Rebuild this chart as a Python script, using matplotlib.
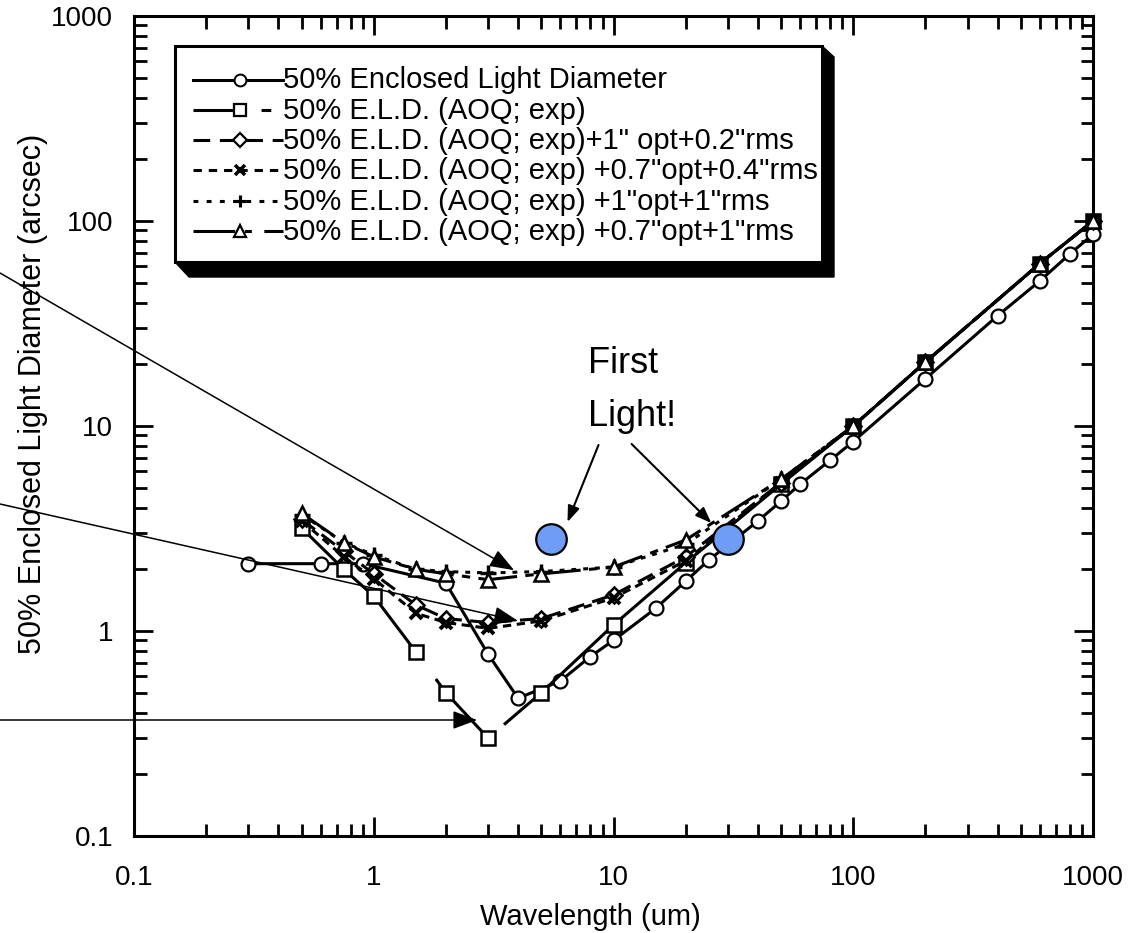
import matplotlib
matplotlib.use('Agg')
import matplotlib.pyplot as plt
from matplotlib.lines import Line2D
from matplotlib.patches import Rectangle, Polygon
from matplotlib.ticker import FuncFormatter

plt.rcParams['font.family'] = ['Liberation Sans', 'DejaVu Sans']
plt.rcParams['lines.scale_dashes'] = False

W, H = 1139, 933
DPI = 100

# ------------------------------------------------------------------
# data
# ------------------------------------------------------------------
wl_eld = [0.3, 0.6, 0.9, 2, 3, 4, 6, 8, 10, 15, 20, 25, 40, 50, 60, 80,
          100, 200, 400, 600, 800, 1000]
eld = [2.13, 2.13, 2.13, 1.71, 0.77, 0.47, 0.57, 0.75, 0.9, 1.29, 1.75,
       2.22, 3.44, 4.3, 5.2, 6.8, 8.4, 17, 34.5, 51, 69, 86]

wl_aoq = [0.5, 0.75, 1, 1.5, 2, 3, 5, 10, 20, 50, 100, 200, 600, 1000]
aoq = [3.18, 2.0, 1.48, 0.79, 0.5, 0.3, 0.5, 1.07, 2.15, 5.2, 10, 20.5, 62, 100]
aoq_1opt_02rms = [3.5, 2.45, 1.9, 1.34, 1.15, 1.1, 1.15, 1.5, 2.3, 5.3, 10, 20.5, 62, 100]
aoq_07opt_04rms = [3.45, 2.3, 1.8, 1.22, 1.1, 1.03, 1.12, 1.45, 2.2, 5.3, 10, 20.5, 62, 100]
aoq_1opt_1rms = [3.7, 2.7, 2.35, 2.0, 1.95, 1.92, 1.95, 2.05, 2.65, 5.5, 10, 20.5, 62, 100]
aoq_07opt_1rms = [3.75, 2.7, 2.3, 2.0, 1.9, 1.78, 1.9, 2.05, 2.78, 5.5, 10, 20.5, 62, 100]

first_light_wl = [5.5, 30]
first_light_eld = [2.8, 2.8]

labels = [
    '50% Enclosed Light Diameter',
    '50% E.L.D. (AOQ; exp)',
    '50% E.L.D. (AOQ; exp)+1" opt+0.2"rms',
    '50% E.L.D. (AOQ; exp) +0.7"opt+0.4"rms',
    '50% E.L.D. (AOQ; exp) +1"opt+1"rms',
    '50% E.L.D. (AOQ; exp) +0.7"opt+1"rms',
]
xs = [wl_eld, wl_aoq, wl_aoq, wl_aoq, wl_aoq, wl_aoq]
ys = [eld, aoq, aoq_1opt_02rms, aoq_07opt_04rms, aoq_1opt_1rms, aoq_07opt_1rms]

# style per series: marker, size, edge width, dash pattern in plot, dash in legend
markers = ['o', 's', 'D', 'x', '+', '^']
msizes = [10, 10, 8, 9, 11, 10]
mews = [1.6, 1.8, 1.8, 2.8, 2.5, 1.8]
plot_dashes = [None, (122, 24, 58, 14, 2000, 1), (12, 6), (6, 4), (3.5, 5), (28, 6, 6, 6)]
leg_dashes = [None, (30, 19, 7, 10), (12, 7), (6, 5), (3.5, 6), (30, 7, 5, 9)]


def fx(px):
    return px / W


def fy(py):
    return 1 - py / H


fig = plt.figure(figsize=(W / DPI, H / DPI), dpi=DPI)
ax = fig.add_axes([fx(134), fy(836), fx(1093) - fx(134), fy(16) - fy(836)])
ax.set_xscale('log')
ax.set_yscale('log')
ax.set_xlim(0.1, 1000)
ax.set_ylim(0.1, 1000)

for x, y, m, ms, mew, d in zip(xs, ys, markers, msizes, mews, plot_dashes):
    ln, = ax.plot(x, y, color='black', lw=2.2, marker=m, ms=ms, mew=mew,
                  mfc='white', mec='black', zorder=3, clip_on=False)
    if d is not None:
        ln.set_dashes(d)

ax.plot(first_light_wl, first_light_eld, ls='none', marker='o', ms=22,
        mfc='#6f9df5', mec='black', mew=1.6, zorder=5)

# axes styling
for s in ax.spines.values():
    s.set_linewidth(2.2)
fmt = FuncFormatter(lambda v, p: f'{v:g}')
ax.xaxis.set_major_formatter(fmt)
ax.yaxis.set_major_formatter(fmt)
ax.tick_params(which='both', direction='in', top=True, right=True, width=2)
ax.tick_params(which='major', length=13.5, labelsize=20)
ax.tick_params(which='minor', length=9)
ax.tick_params(axis='x', which='major', pad=21)
ax.tick_params(axis='y', which='major', pad=15)

fig.text(fx(33), fy(394), '50% Enclosed Light Diameter (arcsec)', rotation=90,
         ha='center', va='center', fontsize=22)
fig.text(fx(590), fy(925), 'Wavelength (um)', ha='center', va='baseline', fontsize=21)

# thin arrows coming in from the left edge
arrow_tips = [(3.85, 1.98), (4.0, 1.12), (2.7, 0.368)]
arrow_starts = [fy(273), fy(504), fy(720)]
for (tx, ty), sy in zip(arrow_tips, arrow_starts):
    ax.annotate('', xy=(tx, ty), xycoords='data', xytext=(0, sy),
                textcoords='figure fraction', annotation_clip=False,
                arrowprops=dict(arrowstyle='-|>,head_length=0.75,head_width=0.28',
                                mutation_scale=20, lw=1.1, color='black',
                                shrinkA=0, shrinkB=0, clip_on=False))

# "First Light!" callout
ax.text(7.8, 24.5, 'First\nLight!', ha='left', va='top', fontsize=26, linespacing=1.65)
fl_tips = [(6.43, 3.40), (25.6, 3.36)]
fl_tails = [(8.66, 8.08), (11.9, 8.17)]
for tip, tail in zip(fl_tips, fl_tails):
    ax.annotate('', xy=tip, xytext=tail,
                arrowprops=dict(arrowstyle='-|>,head_length=0.8,head_width=0.3',
                                mutation_scale=12, lw=1.5, color='black',
                                shrinkA=0, shrinkB=0))

# hand-built legend box with a bevelled drop shadow
shadow = Polygon([(fx(175), fy(262)), (fx(189), fy(277)), (fx(834), fy(277)),
                  (fx(834), fy(57)), (fx(822), fy(46))], closed=True,
                 transform=fig.transFigure, facecolor='black', edgecolor='black', zorder=10)
box = Rectangle((fx(175), fy(262)), fx(822) - fx(175), fy(46) - fy(262),
                transform=fig.transFigure, facecolor='white', edgecolor='black',
                lw=2.2, zorder=11)
fig.add_artist(shadow)
fig.add_artist(box)

for i, lab in enumerate(labels):
    base = 88.5 + i * 30.3
    yl = base - 9
    ln = Line2D([fx(193), fx(283)], [fy(yl), fy(yl)], transform=fig.transFigure,
                color='black', lw=2.2, zorder=12)
    if leg_dashes[i] is not None:
        ln.set_dashes(leg_dashes[i])
    fig.add_artist(ln)
    mk = Line2D([fx(240)], [fy(yl)], transform=fig.transFigure, ls='none',
                marker=markers[i], ms=msizes[i] * 0.85, mew=mews[i] * 0.9,
                mfc='white', mec='black', zorder=13)
    fig.add_artist(mk)
    fig.text(fx(283), fy(base), lab, ha='left', va='baseline', fontsize=21, zorder=14)

fig.savefig('out.png', dpi=DPI)
